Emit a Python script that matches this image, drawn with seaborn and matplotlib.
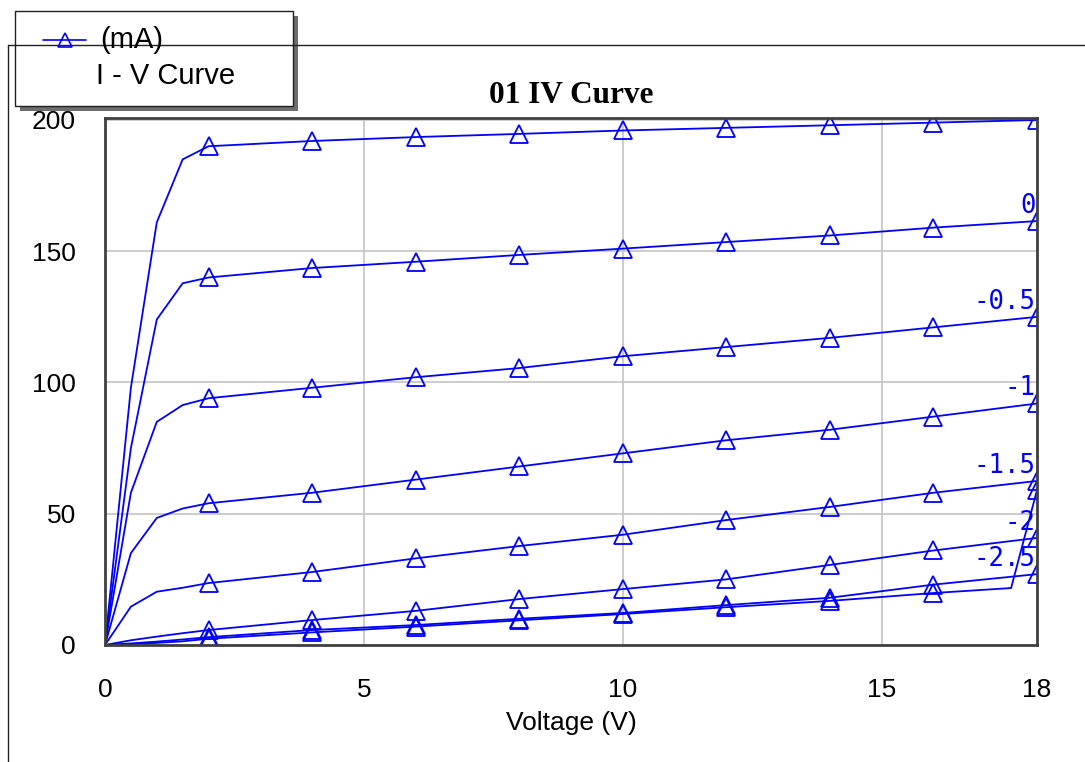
import matplotlib
matplotlib.use("Agg")
import matplotlib.pyplot as plt
from matplotlib.lines import Line2D
from matplotlib.patches import Rectangle
import numpy as np
import pandas as pd
import seaborn as sns

# drain voltage sweep (V) and drain current (mA) per gate step
V = [0, 0.5, 1, 1.5, 2, 4, 6, 8, 10, 12, 14, 16, 18]
I_p05 = [0, 98, 161, 185, 190, 192, 193.5, 194.7, 196, 197, 198, 199, 200]
I_0 = [0, 75, 124, 137.8, 140, 143.6, 146, 148.6, 151, 153.5, 156, 159, 161.5]
I_m05 = [0, 58, 85, 91.4, 94, 98, 102, 105.5, 110, 113.5, 117, 121, 125]
I_m1 = [0, 35, 48.4, 52, 54, 58, 63, 68, 73, 78, 82, 87, 92]
I_m15 = [0, 14.6, 20.3, 21.8, 23.6, 27.8, 33, 37.7, 42, 47.6, 52.6, 58, 62.5]
I_m2 = [0, 1.8, 3.2, 4.5, 5.7, 9.5, 13, 17.5, 21.3, 25, 30.5, 36, 40.8]
I_m25 = [0, 0.6, 1.3, 2.1, 3, 5.7, 7.6, 10, 12.2, 15.2, 18, 23, 27]
V_m3 = [0, 0.5, 1, 1.5, 2, 4, 6, 8, 10, 12, 14, 16, 17.5, 18]
I_m3 = [0, 0.3, 0.8, 1.4, 2.4, 4.8, 7, 9.4, 11.8, 14.4, 16.8, 19.8, 21.7, 59]

curves = [("", V, I_p05), ("0", V, I_0), ("-0.5", V, I_m05), ("-1", V, I_m1),
          ("-1.5", V, I_m15), ("-2", V, I_m2), ("-2.5", V, I_m25), ("", V_m3, I_m3)]

xticks = [0, 5, 10, 15, 18]
yticks = [0, 50, 100, 150, 200]

W, H = 1085, 762
def fx(x):
    return x / W
def fy(y):
    return 1 - y / H

sns.set_style("white")
plt.rcParams["font.family"] = ["Liberation Sans", "DejaVu Sans"]
for k in ["text.color", "axes.labelcolor", "xtick.color", "ytick.color"]:
    plt.rcParams[k] = "black"

fig = plt.figure(figsize=(W / 100, H / 100), dpi=100)
ax = fig.add_axes([fx(105), fy(645), fx(1037) - fx(105), fy(118) - fy(645)])

blue = "#0000ff"
for name, v, i in curves:
    df = pd.DataFrame({"V": v, "I": i})
    marks = [k for k, x in enumerate(v) if x >= 2 and x % 2 == 0]
    sns.lineplot(data=df, x="V", y="I", ax=ax, color=blue, lw=1.3, sort=False,
                 estimator=None, marker="^", markevery=marks, ms=12.5,
                 mfc="none", mec=blue, mew=1.3, legend=False)
    if name:
        ax.annotate(name, (v[-1], i[-1]), xytext=(-1, 11), textcoords="offset points",
                    ha="right", va="center", color=blue, fontsize=18.5,
                    family="DejaVu Sans Mono", annotation_clip=False)

ax.set_xlim(0, 18)
ax.set_ylim(0, 200.76)
ax.set_xticks(xticks)
ax.set_yticks(yticks)
ax.set_xticklabels([str(t) for t in xticks])
ax.set_yticklabels([str(t) for t in yticks])
ax.tick_params(length=0, labelsize=19)
ax.tick_params(axis="y", pad=21)
ax.tick_params(axis="x", pad=24)
ax.grid(True, color="#c8c8c8", lw=1.3)
for s in ax.spines.values():
    s.set_color("#404040")
    s.set_linewidth(2)
ax.set_xlabel("Voltage (V)", fontsize=19, labelpad=6)
ax.set_ylabel("")
ax.set_title("01 IV Curve", family="Liberation Serif", fontweight="bold",
             fontsize=22.5, pad=11)

# outer frame
fig.add_artist(Line2D([fx(8), fx(8)], [fy(45), fy(762)], color="#202020", lw=1))
fig.add_artist(Line2D([fx(8), fx(1085)], [fy(45), fy(45)], color="#202020", lw=1))

# legend box with drop shadow
fig.add_artist(Rectangle((fx(20), fy(111)), fx(278), 95 / H, facecolor="#6e6e6e",
                         edgecolor="none"))
fig.add_artist(Rectangle((fx(15), fy(106)), fx(278), 95 / H, facecolor="white",
                         edgecolor="#202020", lw=1))
fig.add_artist(Line2D([fx(43), fx(86)], [fy(40), fy(40)], color=blue, lw=1.2))
fig.add_artist(Line2D([fx(64.5)], [fy(40)], color=blue, marker="^", ms=10,
                      mfc="none", mec=blue, mew=1.2))
fig.text(fx(100), fy(40), "(mA)", fontsize=21, va="center", ha="left")
fig.text(fx(96), fy(76), "I - V Curve", fontsize=21, va="center", ha="left")

fig.savefig("out.png", dpi=100, facecolor="white")
